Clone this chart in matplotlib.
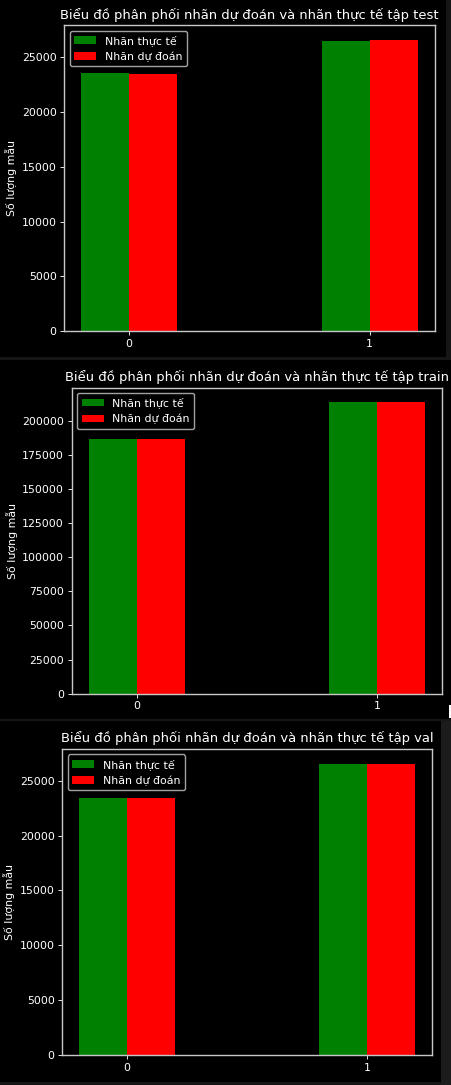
import matplotlib
matplotlib.use("Agg")
import matplotlib.pyplot as plt
from matplotlib.patches import Rectangle
import numpy as np

plt.style.use("dark_background")

# ---- data ----
classes = [0, 1]
test_actual = [23530, 26470]
test_pred = [23440, 26560]
train_actual = [186700, 213300]
train_pred = [186600, 213400]
val_actual = [23440, 26560]
val_pred = [23430, 26570]
legend_labels = ["Nhãn thực tế", "Nhãn dự đoán"]
titles = [
    "Biểu đồ phân phối nhãn dự đoán và nhãn thực tế tập test",
    "Biểu đồ phân phối nhãn dự đoán và nhãn thực tế tập train",
    "Biểu đồ phân phối nhãn dự đoán và nhãn thực tế tập val",
]
ylabel = "Số lượng mẫu"

W, H = 452, 1085
fig = plt.figure(figsize=(W / 100, H / 100), dpi=100)
fig.patch.set_facecolor("#161616")

def px_rect(x0, y0, x1, y1):
    return [x0 / W, 1 - y1 / H, (x1 - x0) / W, (y1 - y0) / H]

def add_bg(x0, y0, x1, y1, color):
    l, b, w, h = px_rect(x0, y0, x1, y1)
    fig.add_artist(Rectangle((l, b), w, h, transform=fig.transFigure,
                             facecolor=color, edgecolor="none", zorder=-10))

# panel backgrounds (pixel boxes)
panels = [(0, 0, 446, 357), (0, 360, 452, 718.5), (0, 721, 441, 1082)]
for p in panels:
    add_bg(*p, "black")
add_bg(441, 721, 452, 1085, "#1c1c1c")
add_bg(449, 705, 452, 718, "white")

axes_px = [(64.3, 25.3, 434.7, 331.3), (71.7, 387.7, 442, 693.7), (62.3, 749, 432.3, 1055)]
datasets = [(test_actual, test_pred), (train_actual, train_pred), (val_actual, val_pred)]

s = 0.79
x = np.array(classes)
width = 0.2
spine_col = "#c8c8c8"
for (box, (act, pred), title) in zip(axes_px, datasets, titles):
    ax = fig.add_axes(px_rect(*box))
    ax.set_facecolor("black")
    ax.bar(x - width / 2, act, width, color="green", label=legend_labels[0])
    ax.bar(x + width / 2, pred, width, color="red", label=legend_labels[1])
    ax.set_xticks(x)
    ax.set_xticklabels([str(c) for c in classes])
    ax.set_title(title, fontsize=12 * s, pad=6 * s, color="white")
    ax.set_ylabel(ylabel, fontsize=10 * s, labelpad=4 * s, color="white")
    ax.tick_params(labelsize=10 * s, length=3.5 * s, width=0.8 * s, pad=3.5 * s,
                   colors="white")
    for sp in ax.spines.values():
        sp.set_color(spine_col)
        sp.set_linewidth(1.0)
    leg = ax.legend(fontsize=10 * s, loc="upper left")
    leg.get_frame().set_edgecolor("#cccccc")
    leg.get_frame().set_linewidth(1.0)

fig.savefig("out.png", dpi=100, facecolor=fig.get_facecolor())
